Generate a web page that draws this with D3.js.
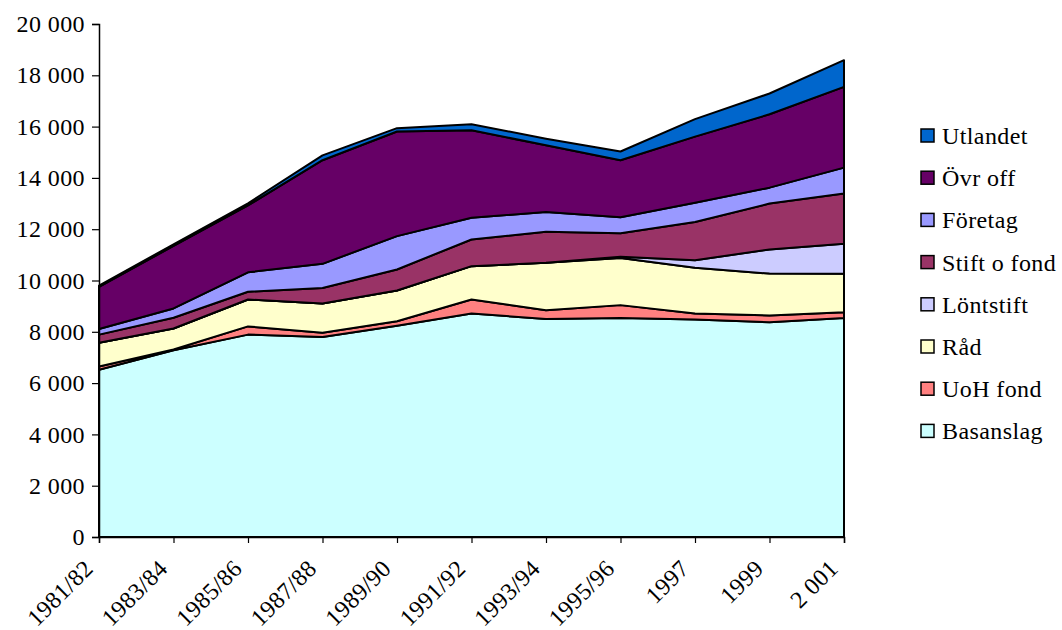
<!DOCTYPE html>
<html>
<head>
<meta charset="utf-8">
<script src="https://cdn.jsdelivr.net/npm/d3@7"></script>
<style>
  body { margin: 0; background: #fff; }
</style>
</head>
<body>
<svg id="chart" width="1062" height="630"></svg>
<script>
// categories (x axis)
const years = ["1981/82", "1983/84", "1985/86", "1987/88", "1989/90", "1991/92",
               "1993/94", "1995/96", "1997", "1999", "2 001"];

// series, bottom to top
const basanslag = [6520, 7280, 7890, 7800, 8240, 8710, 8500, 8540, 8480, 8370, 8540];
const uohFond    = [130,   30,  320,  160,  170,  550,  340,  500,  230,  270,  220];
const rad        = [920,  820, 1050, 1140, 1200, 1300, 1850, 1840, 1790, 1630, 1500];
const lontstift  = [0,      0,    0,    0,    0,    0,    0,   50,  290,  940, 1170];
const stiftFond  = [320,  420,  300,  610,  820, 1040, 1210,  910, 1490, 1790, 1960];
const foretag    = [220,  360,  760,  940, 1300,  850,  770,  630,  750,  620, 1010];
const ovrOff     = [1640, 2440, 2610, 4040, 4080, 3410, 2600, 2220, 2580, 2860, 3150];
const utlandet   = [50,    60,   80,  190,  130,  230,  260,  340,  680,  810, 1040];

const yTicks = [0, 2000, 4000, 6000, 8000, 10000, 12000, 14000, 16000, 18000, 20000];

const series = [
  { name: "Basanslag",    values: basanslag, color: "#CCFFFF" },
  { name: "UoH fond",     values: uohFond,   color: "#FF8080" },
  { name: "Råd",          values: rad,       color: "#FFFFCC" },
  { name: "Löntstift",    values: lontstift, color: "#CCCCFF" },
  { name: "Stift o fond", values: stiftFond, color: "#993366" },
  { name: "Företag",      values: foretag,   color: "#9999FF" },
  { name: "Övr off",      values: ovrOff,    color: "#660066" },
  { name: "Utlandet",     values: utlandet,  color: "#0066CC" }
];

const FONT = "'Liberation Serif', 'Times New Roman', Tinos, 'DejaVu Serif', serif";

const svg = d3.select("#chart");
const plotLeft = 99, plotRight = 844, plotTop = 24, plotBottom = 537;

const x = d3.scalePoint().domain(years).range([plotLeft, plotRight]);
const y = d3.scaleLinear().domain([0, 20000]).range([plotBottom, plotTop]);

// build rows for d3.stack
const rows = years.map((yr, i) => {
  const r = { year: yr };
  series.forEach(s => r[s.name] = s.values[i]);
  return r;
});
const stacked = d3.stack().keys(series.map(s => s.name))(rows);

const area = d3.area()
  .x(d => x(d.data.year))
  .y0(d => y(d[0]))
  .y1(d => y(d[1]));

svg.append("g").selectAll("path").data(stacked).enter().append("path")
  .attr("d", area)
  .attr("fill", (d, i) => series[i].color)
  .attr("stroke", "#000")
  .attr("stroke-width", 2)
  .attr("stroke-linejoin", "round");

// axes
const fmt = v => d3.format(",")(v).replace(/,/g, " ");
const yAxis = svg.append("g").attr("transform", `translate(${plotLeft},0)`)
  .call(d3.axisLeft(y).tickValues(yTicks).tickSize(7).tickPadding(7).tickFormat(fmt));
const xAxis = svg.append("g").attr("transform", `translate(0,${plotBottom})`)
  .call(d3.axisBottom(x).tickSize(6).tickPadding(4));

[yAxis, xAxis].forEach(a => {
  a.select(".domain").attr("stroke", "#000").attr("stroke-width", 1.5);
  a.selectAll(".tick line").attr("stroke", "#000").attr("stroke-width", 1.2);
  a.selectAll("text").style("font-family", FONT).style("font-size", "24px")
    .style("letter-spacing", "0.4px").attr("fill", "#000");
});
xAxis.selectAll("text")
  .attr("text-anchor", "end")
  .attr("y", 0)
  .attr("dy", 0)
  .attr("transform", "translate(-5,33) rotate(-45)");

// legend, top entry first
const legend = svg.append("g");
const legendItems = series.slice().reverse();
legendItems.forEach((s, i) => {
  const cy = 136 + i * 42.2;
  legend.append("rect")
    .attr("x", 921).attr("y", cy - 7).attr("width", 13).attr("height", 13)
    .attr("fill", s.color).attr("stroke", "#000").attr("stroke-width", 1.5);
  legend.append("text")
    .attr("x", 942).attr("y", cy + 8)
    .style("font-family", FONT).style("font-size", "24px").style("letter-spacing", "0.4px")
    .text(s.name);
});
</script>
</body>
</html>
